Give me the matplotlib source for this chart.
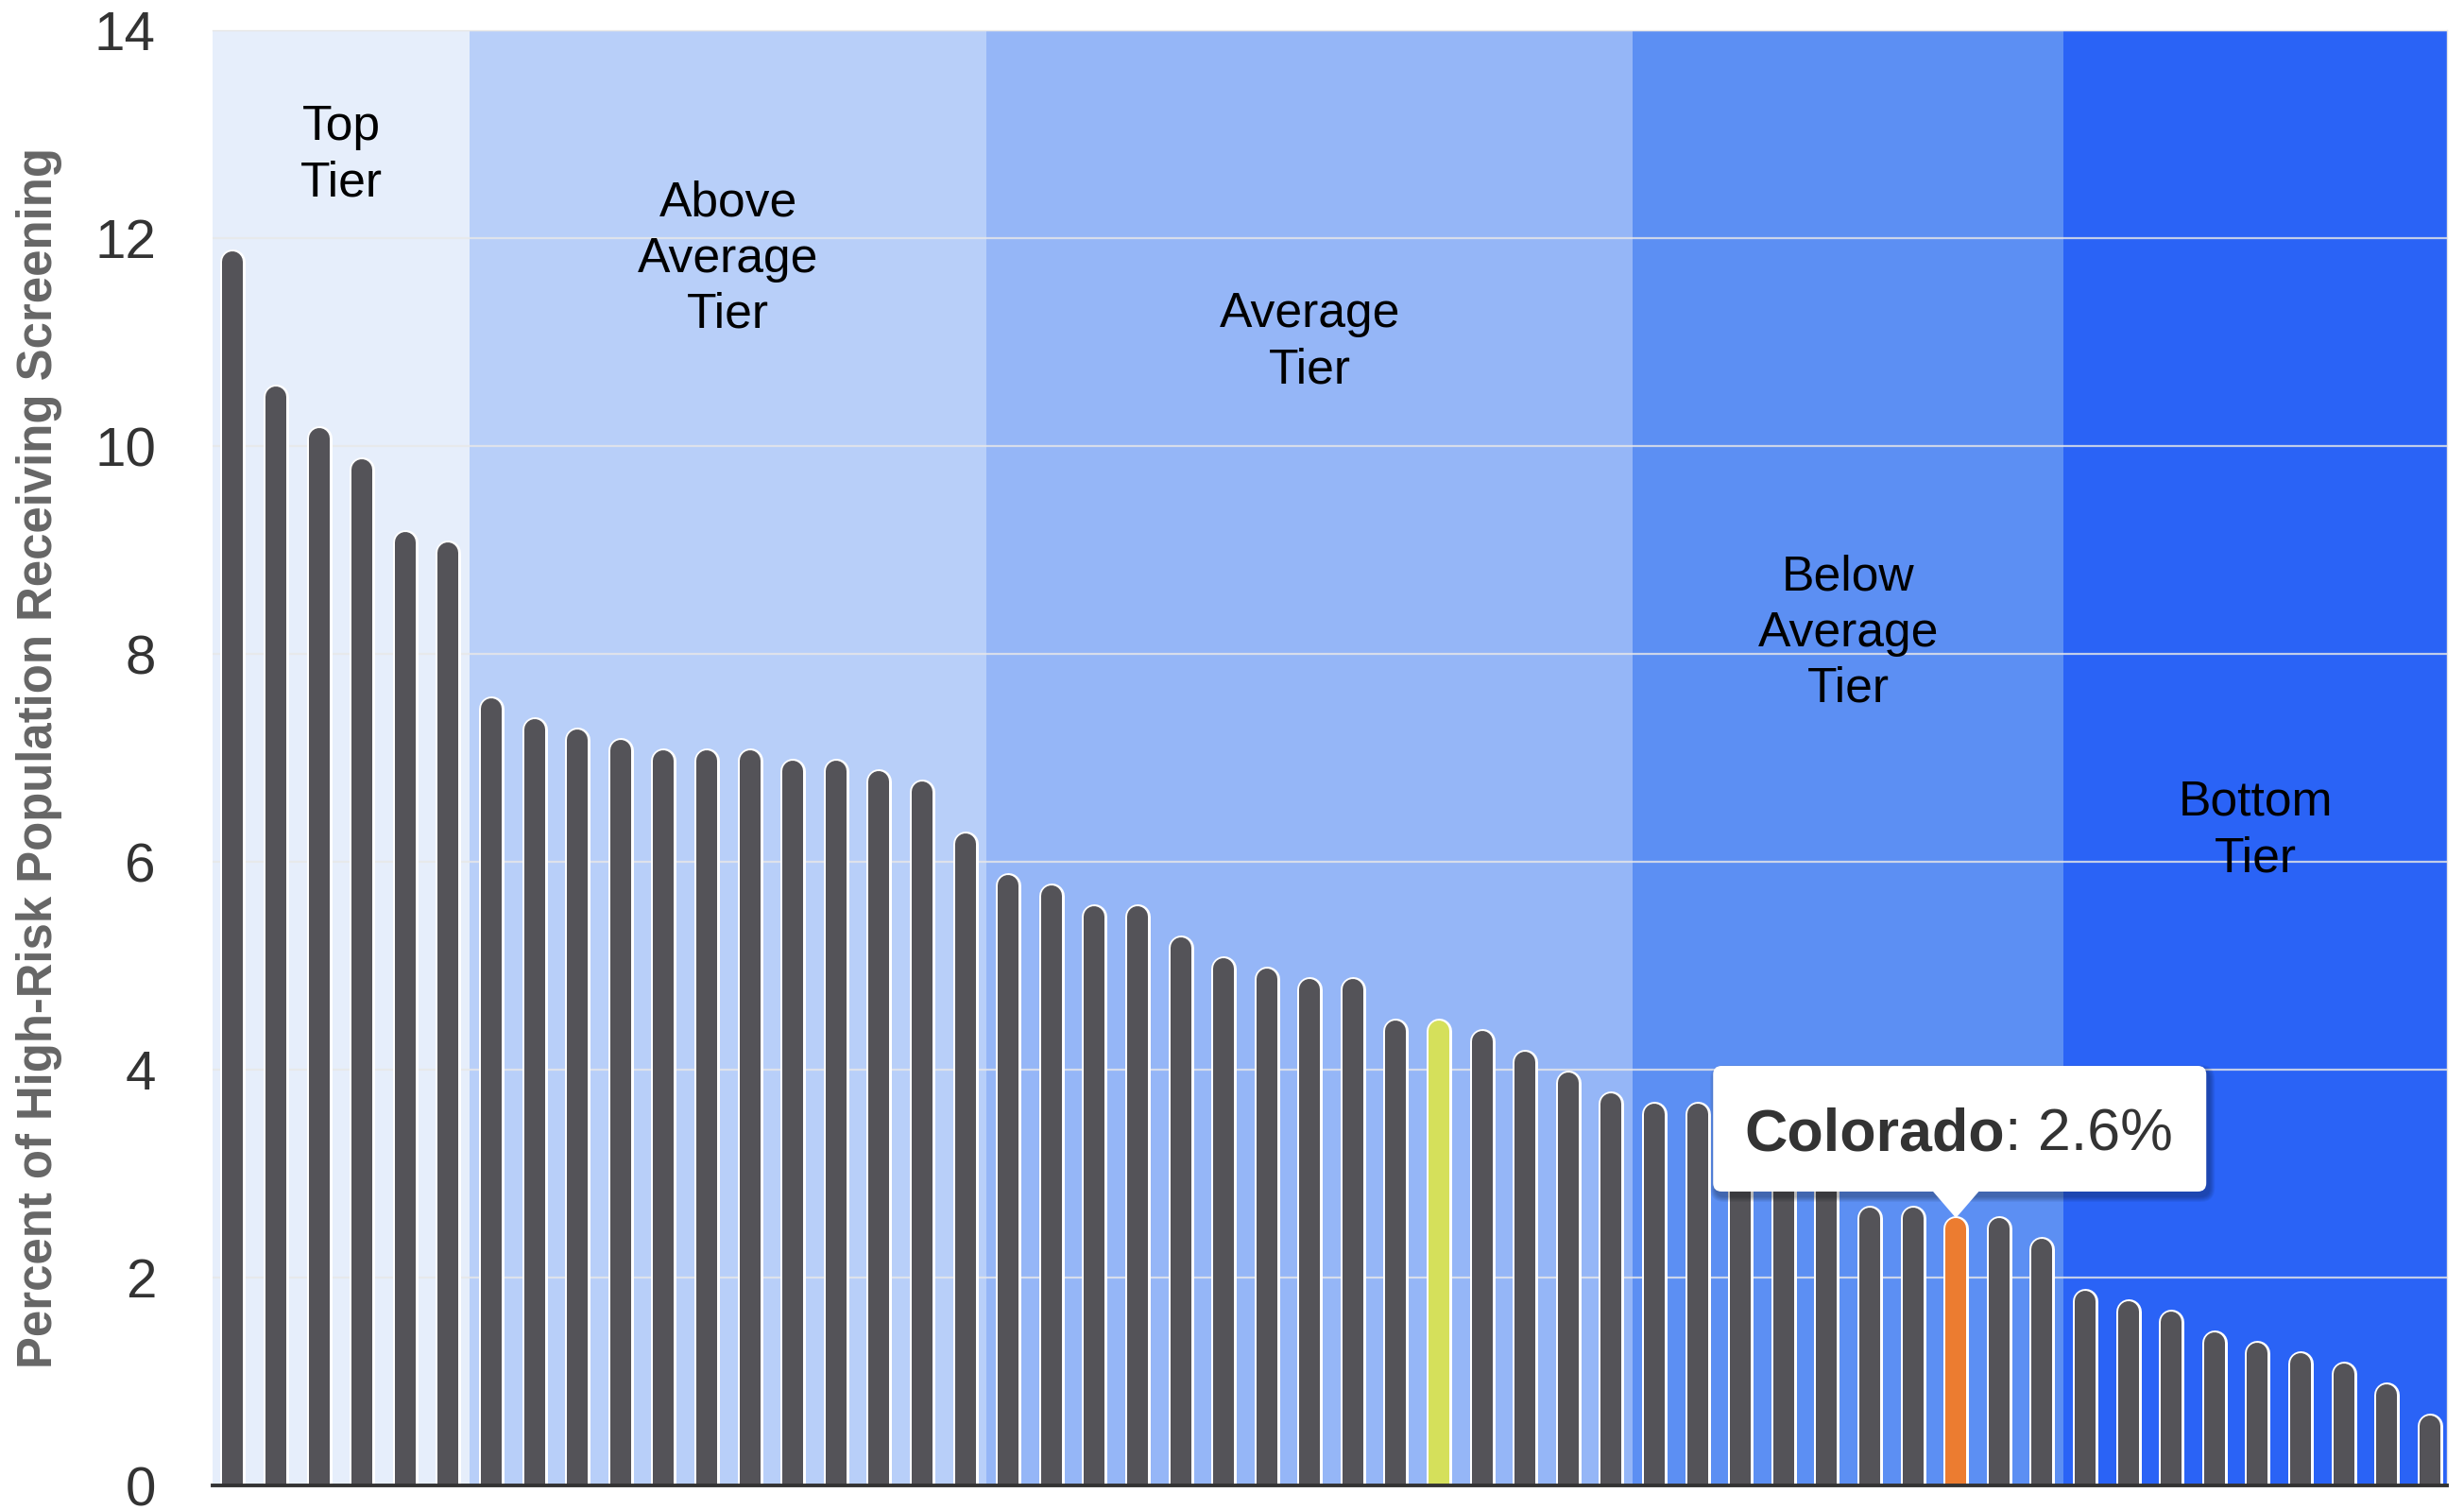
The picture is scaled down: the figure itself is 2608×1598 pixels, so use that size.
import matplotlib
matplotlib.use("Agg")
import matplotlib.pyplot as plt
from matplotlib.patches import FancyBboxPatch, Polygon
from matplotlib.transforms import IdentityTransform

plt.rcParams['font.family'] = ['Liberation Sans', 'DejaVu Sans']

# Screening rate by state, sorted high to low (%)
values = [11.9, 10.6, 10.2, 9.9, 9.2, 9.1,
          7.6, 7.4, 7.3, 7.2, 7.1, 7.1, 7.1, 7.0, 7.0, 6.9, 6.8, 6.3,
          5.9, 5.8, 5.6, 5.6, 5.3, 5.1, 5.0, 4.9, 4.9, 4.5, 4.5, 4.4, 4.2, 4.0, 3.8,
          3.7, 3.7, 3.4, 3.2, 3.0, 2.7, 2.7, 2.6, 2.6, 2.4,
          1.9, 1.8, 1.7, 1.5, 1.4, 1.3, 1.2, 1.0, 0.7]
highlight_yellow = 28      # bar index
colorado_idx = 40          # bar index
colorado_label = "Colorado"
colorado_value = "2.6%"

tier_names = ["Top\nTier", "Above\nAverage\nTier", "Average\nTier",
              "Below\nAverage\nTier", "Bottom\nTier"]
tier_sizes = [6, 12, 15, 10, 9]
tier_label_y = [12.8, 11.8, 11.0, 8.2, 6.3]
tier_colors = ["#e6eefb", "#b8cff9", "#95b6f7", "#5c8ff3", "#2a63f6"]

yticks = [0, 2, 4, 6, 8, 10, 12, 14]
ylabel = "Percent of High-Risk Population Receiving Screening"

W, H, DPI = 2608, 1598, 200
fig = plt.figure(figsize=(W / DPI, H / DPI), dpi=DPI)
ax = fig.add_axes([225 / W, 26 / H, 2365 / W, 1540 / H])

xlo, xhi = -0.47, len(values) - 1 + 0.4
ax.set_xlim(xlo, xhi)
ax.set_ylim(0, 14)

# tier backgrounds
edges = [xlo]
acc = 0
for s in tier_sizes[:-1]:
    acc += s
    edges.append(acc - 0.5)
edges.append(xhi)
for i, name in enumerate(tier_names):
    ax.axvspan(edges[i], edges[i + 1], color=tier_colors[i], lw=0, zorder=1)
    ax.text((edges[i] + edges[i + 1]) / 2, tier_label_y[i], name, ha='center', va='center',
            fontsize=18.6, color='black', linespacing=1.27, zorder=2)

# gridlines
for t in yticks[1:]:
    ax.axhline(t, color='#e8e8e8', lw=0.8, alpha=0.8, zorder=1.5)

# bars: round-capped lines, white outline
ppu = 1540 / 14.0          # pixels per unit
outer_px, inner_px = 27, 22
for i, v in enumerate(values):
    c = '#545358'
    if i == highlight_yellow:
        c = '#d5e05b'
    elif i == colorado_idx:
        c = '#ec7c30'
    top = v - (outer_px / 2) / ppu
    ax.plot([i, i], [-1, top], color='white', lw=outer_px * 72 / DPI,
            solid_capstyle='round', zorder=3)
    ax.plot([i, i], [-1, top], color=c, lw=inner_px * 72 / DPI,
            solid_capstyle='round', zorder=4)

ax.set_yticks(yticks)
ax.set_xticks([])
ax.tick_params(axis='y', length=0, pad=21.6, labelsize=21, labelcolor='#333333')
ax.spines['left'].set_visible(False)
for s in ['top', 'right']:
    ax.spines[s].set_color('#e6e6e6')
    ax.spines[s].set_linewidth(0.5)
ax.spines['bottom'].set_color('#333333')
ax.spines['bottom'].set_linewidth(1.4)
ax.spines['bottom'].set_zorder(6)

fig.text(42 / W, 1 - 802 / H, ylabel, rotation=90, ha='center', va='center',
         fontsize=18.3, fontweight='bold', color='#666666')

# tooltip
tx, ty = ax.transData.transform((colorado_idx, values[colorado_idx]))
ty = ty - 3
bx0, bx1 = tx - 257, tx + 265
by0, by1 = ty + 28, ty + 161
for k in range(6):
    g = 2 + k * 2
    sh = FancyBboxPatch((bx0 + 3 - g / 2, by0 - 5 - g / 2), bx1 - bx0 + g, by1 - by0 + g,
                        boxstyle="round,pad=0,rounding_size=%d" % (9 + g / 2),
                        transform=IdentityTransform(), fc='black', ec='none',
                        alpha=0.05, zorder=7)
    fig.patches.append(sh)
box = FancyBboxPatch((bx0, by0), bx1 - bx0, by1 - by0, boxstyle="round,pad=0,rounding_size=9",
                     transform=IdentityTransform(), fc='white', ec='none', zorder=8)
fig.patches.append(box)
tri = Polygon([[tx - 25, by0 + 1], [tx + 25, by0 + 1], [tx, ty]], closed=True,
              transform=IdentityTransform(), fc='white', ec='none', zorder=8)
fig.patches.append(tri)

t1 = fig.text((tx - 224) / W, (ty + 72) / H, colorado_label, fontsize=22.6, fontweight='bold',
              color='#333333', ha='left', va='baseline', zorder=9)
fig.canvas.draw()
bb = t1.get_window_extent()
fig.text(bb.x1 / W, (ty + 72) / H, ": " + colorado_value, fontsize=22.6, color='#333333',
         ha='left', va='baseline', zorder=9)

fig.savefig("out.png", dpi=DPI, facecolor='white')
